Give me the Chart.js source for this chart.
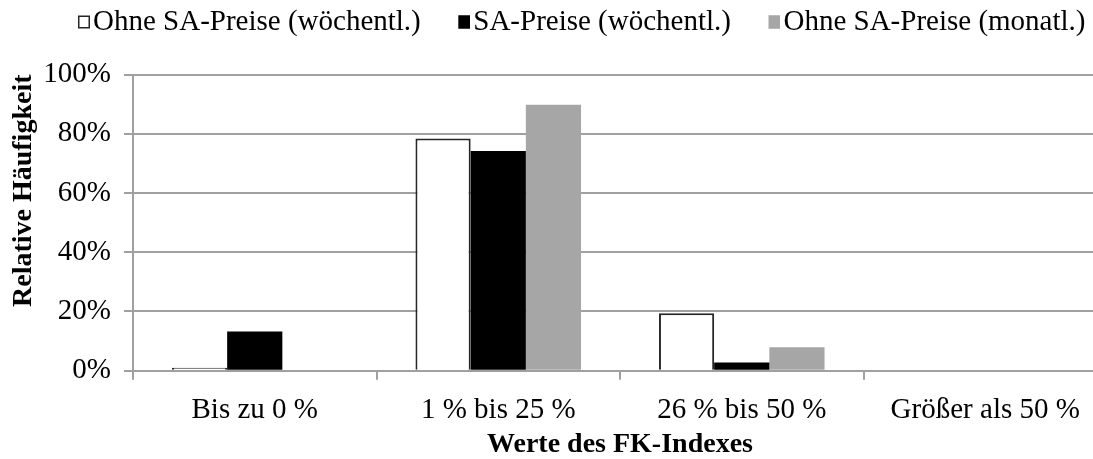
<!DOCTYPE html>
<html>
<head>
<meta charset="utf-8">
<script src="https://cdn.jsdelivr.net/npm/chart.js@4/dist/chart.umd.min.js"></script>
<style>
  html, body { margin: 0; padding: 0; background: #fff; overflow: hidden; }
  #wrap { width: 1093px; height: 459px; overflow: hidden; }
</style>
</head>
<body>
<div id="wrap"><canvas id="c" width="1151" height="459"></canvas></div>
<script>
const categories = ['Bis zu 0 %', '1 % bis 25 %', '26 % bis 50 %', 'Größer als 50 %'];
const seriesNames = ['Ohne SA-Preise (wöchentl.)', 'SA-Preise (wöchentl.)', 'Ohne SA-Preise (monatl.)'];
const ohneWoechentl = [1.0, 78.4, 19.4, 0];
const saWoechentl = [13.2, 74.2, 2.8, 0];
const ohneMonatl = [0, 89.8, 7.9, 0];
const yTicks = [0, 20, 40, 60, 80, 100];

const FONT = '"Liberation Serif", "Times New Roman", serif';
const GRID = '#a0a0a0';
const fills = ['#ffffff', '#000000', '#a6a6a6'];
const strokes = ['#262626', '#000000', '#a6a6a6'];

function makeMarker(fill, stroke) {
  const c = document.createElement('canvas');
  c.width = 36; c.height = 14;
  const ctx = c.getContext('2d');
  ctx.fillStyle = fill;
  ctx.fillRect(24, 0.5, 12, 13);
  ctx.strokeStyle = stroke;
  ctx.lineWidth = 1.5;
  ctx.strokeRect(24.75, 1.25, 10.5, 11.5);
  return c;
}
const markers = fills.map((f, i) => makeMarker(f, strokes[i]));

const legendHeightPlugin = {
  id: 'legendHeight',
  afterInit(chart) {
    const lg = chart.legend;
    if (!lg) return;
    const f = lg.fit;
    lg.fit = function () { f.call(this); this.height = 92; };
  }
};

new Chart(document.getElementById('c'), {
  type: 'bar',
  data: {
    labels: categories,
    datasets: [
      { label: seriesNames[0], data: ohneWoechentl, backgroundColor: fills[0], borderColor: strokes[0], borderWidth: 2 },
      { label: seriesNames[1], data: saWoechentl, backgroundColor: fills[1], borderColor: strokes[1], borderWidth: 0 },
      { label: seriesNames[2], data: ohneMonatl, backgroundColor: fills[2], borderColor: strokes[2], borderWidth: 0 }
    ]
  },
  options: {
    responsive: false,
    animation: false,
    layout: { padding: { top: -17.5, left: 0, right: 0, bottom: 0 } },
    datasets: { bar: { categoryPercentage: 0.68, barPercentage: 1.0 } },
    plugins: {
      tooltip: { enabled: false },
      legend: {
        position: 'top',
        labels: {
          font: { family: FONT, size: 29 },
          color: '#000',
          usePointStyle: true,
          pointStyleWidth: 13,
          boxHeight: 14,
          padding: 25,
          generateLabels(chart) {
            const items = Chart.defaults.plugins.legend.labels.generateLabels(chart);
            items.forEach((it) => { it.pointStyle = markers[it.datasetIndex]; });
            return items;
          }
        }
      }
    },
    scales: {
      x: {
        afterFit(s) { s.height = 88.3; s.paddingRight = 44; },
        grid: { display: true, drawOnChartArea: false, drawTicks: true, tickLength: 9, color: GRID, lineWidth: 2, offset: true },
        border: { display: true, color: GRID, width: 2 },
        ticks: { font: { family: FONT, size: 29 }, color: '#000', padding: 13, maxRotation: 0, autoSkip: false },
        title: { display: true, text: 'Werte des FK-Indexes', font: { family: FONT, size: 28, weight: 'bold', lineHeight: 1 }, color: '#000', padding: { top: 0, bottom: 0 } }
      },
      y: {
        min: 0,
        max: 100,
        afterFit(s) { s.width = 133; },
        afterBuildTicks(s) { s.ticks = yTicks.map(v => ({ value: v })); },
        grid: { color: GRID, lineWidth: 2, drawTicks: true, tickLength: 9 },
        border: { display: true, color: GRID, width: 2 },
        ticks: { font: { family: FONT, size: 29 }, color: '#000', padding: 13, callback: v => v + '%' },
        title: { display: true, text: 'Relative Häufigkeit', align: 'end', font: { family: FONT, size: 28, weight: 'bold', lineHeight: 1 }, color: '#000', padding: { top: 10, bottom: 0 } }
      }
    }
  },
  plugins: [legendHeightPlugin]
});
</script>
</body>
</html>
